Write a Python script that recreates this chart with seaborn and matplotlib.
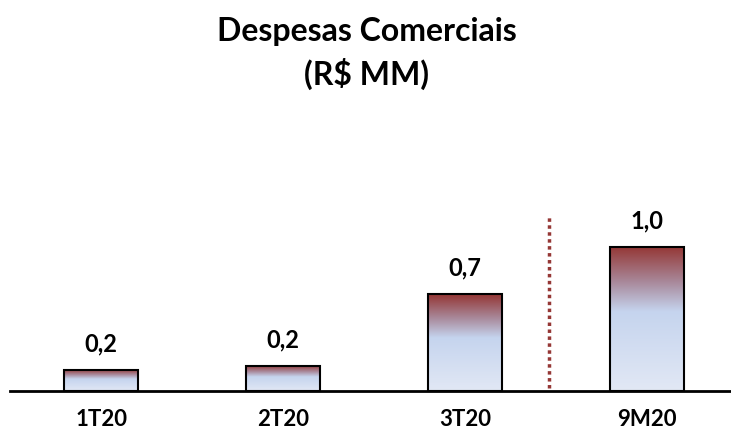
import numpy as np
import pandas as pd
import matplotlib
matplotlib.use("Agg")
import matplotlib.pyplot as plt
from matplotlib.colors import LinearSegmentedColormap
import seaborn as sns

periods = ["1T20", "2T20", "3T20", "9M20"]
values = [0.146, 0.174, 0.67, 1.0]
value_labels = ["0,2", "0,2", "0,7", "1,0"]

sns.set_style("white")
plt.rcParams['font.family'] = ['Lato', 'DejaVu Sans']
plt.rcParams['text.color'] = 'black'
plt.rcParams['xtick.color'] = 'black'

df = pd.DataFrame({"periodo": periods, "valor": values})

fig = plt.figure(figsize=(7.31, 4.36), dpi=100)
ax = fig.add_axes([10 / 731, 45 / 436, 721 / 731, 191 / 436])

sns.barplot(data=df, x="periodo", y="valor", ax=ax, width=0.407,
            facecolor="none", edgecolor="black", linewidth=1.5)

# gradient fill: dark red on top fading into light blue
cmap = LinearSegmentedColormap.from_list(
    "grad", [(0.0, "#e2e8f5"), (0.55, "#c5d4ee"), (0.75, "#a98a9c"), (1.0, "#943634")])
grad = np.linspace(0, 1, 256).reshape(-1, 1)
for p in ax.patches:
    x0, y0 = p.get_x(), p.get_y()
    w, h = p.get_width(), p.get_height()
    im = ax.imshow(grad, cmap=cmap, origin="lower", aspect="auto",
                   extent=[x0, x0 + w, y0, y0 + h], zorder=1)
    im.set_clip_path(p)
    p.set_zorder(2)

for i, (v, lab) in enumerate(zip(values, value_labels)):
    ax.annotate(lab, (i, v), xytext=(0, 19), textcoords="offset points",
                ha="center", va="center", fontsize=17, fontweight="bold")

ax.plot([2.46, 2.46], [0.02, 1.22], color="#953735", linestyle=(0, (1, 1)),
        linewidth=2.5, zorder=3)

ax.set_xlim(-0.5, 3.46)
ax.set_ylim(0, 1.326)
ax.set_xlabel("")
ax.set_ylabel("")
ax.set_yticks([])
ax.tick_params(axis="x", length=0, pad=13)
for t in ax.get_xticklabels():
    t.set_fontweight("bold")
    t.set_fontsize(16)
for s in ["top", "right", "left"]:
    ax.spines[s].set_visible(False)
ax.spines["bottom"].set_color("black")
ax.spines["bottom"].set_linewidth(2)

fig.text(0.502, 0.962, "Despesas Comerciais\n(R$ MM)", ha="center", va="top",
         fontsize=23, fontweight="bold", linespacing=1.45)

fig.savefig("out.png", dpi=100)
